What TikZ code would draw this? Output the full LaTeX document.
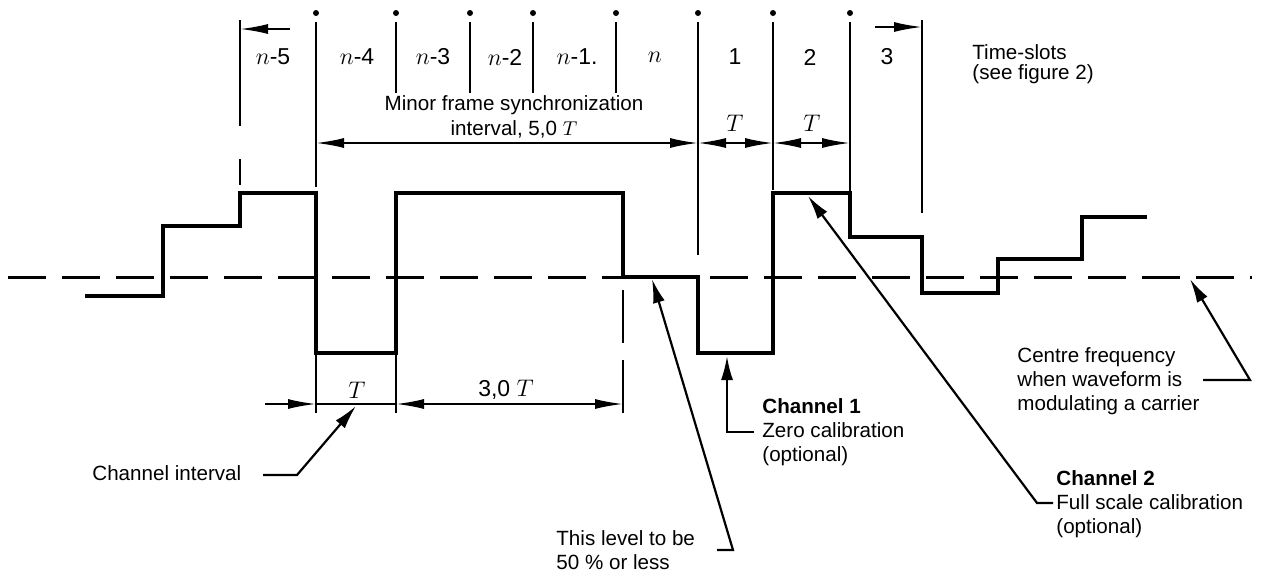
\documentclass[tikz,border=0pt]{standalone}
\usepackage{fontspec}
\setmainfont{Liberation Sans}
\usetikzlibrary{arrows.meta}
\tikzset{
  wave/.style={line width=1.6pt},
  divider/.style={line width=1.3pt},
  extline/.style={line width=1pt},
  centreline/.style={line width=1.5pt, dash pattern=on 19pt off 8pt},
  dimline/.style={line width=0.9pt},
  dimarrow/.style={line width=0.9pt, -{Latex[length=14pt,width=5pt]}},
  dimarrows/.style={line width=0.9pt, {Latex[length=14pt,width=5pt]}-{Latex[length=14pt,width=5pt]}},
  leader/.style={line width=1.1pt, -{Latex[length=12pt,width=6pt]}},
  note/.style={font=\fontsize{10.3}{12}\selectfont, inner sep=0pt, align=left, anchor=north west},
  slotname/.style={font=\fontsize{11.5}{13}\selectfont, inner sep=0pt},
}
\begin{document}
\begin{tikzpicture}[x=0.5pt, y=-0.5pt]
    \useasboundingbox (0,0) rectangle (1265,575);

    \draw[centreline] (8,277) -- (1252,277);
    \draw[wave] (85,296) -| (163,226) -| (240,193) -| (316,353) -| (396,193)
        -| (623,277) -| (698,353) -| (773,193) -| (850,237) -| (922,293)
        -| (998,259) -| (1082,217) -- (1147,217);

    \foreach \x/\y in {316/187, 396/93, 470/93, 533/93, 616/93, 698/255, 773/190, 850/193} {
        \fill (\x,13) circle (3);
        \draw[divider] (\x,22) -- (\x,\y);
    }
    \draw[divider] (922,20) -- (922,213);
    \draw[divider] (240,20) -- (240,126) (240,159) -- (240,185);
    \draw[extline] (316,353) -- (316,413);
    \draw[extline] (396,353) -- (396,413);
    \draw[extline] (623,290) -- (623,343) (623,360) -- (623,413);

    \draw (273,57) node[slotname] (n5) {$n$-5};
    \draw (357,57) node[slotname] (n4) {$n$-4};
    \draw (433,57) node[slotname] (n3) {$n$-3};
    \draw (505,57) node[slotname] (n2) {$n$-2};
    \draw (577,57) node[slotname] (n1) {$n$-1.};
    \draw (655,57) node[slotname] (n0) {$n$};
    \draw (735,57) node[slotname] (s1) {1};
    \draw (810,57) node[slotname] (s2) {2};
    \draw (887,57) node[slotname] (s3) {3};
    \draw (972,44) node[note, font=\fontsize{10.3}{10}\selectfont] (slots) {Time-slots\\(see figure 2)};

    \draw (514,95) node[note, anchor=north, align=center, font=\fontsize{10.3}{12.5}\selectfont] (sync) {Minor frame synchronization\\interval, 5,0 $T$};
    \draw (735,123) node[slotname] (tone) {$T$};
    \draw (812,123) node[slotname] (ttwo) {$T$};
    \draw (357,390) node[slotname] (tlow) {$T$};
    \draw (506,390) node[slotname] (tthree) {3,0 $T$};

    \coordinate (la) at (290,29);
    \coordinate (lb) at (240,29);
    \coordinate (ra) at (875,27);
    \coordinate (rb) at (922,27);
    \draw[dimarrow] (la) -- (lb);
    \draw[dimarrow] (ra) -- (rb);

    \coordinate (ma) at (316,143);
    \coordinate (mb) at (698,143);
    \coordinate (mc) at (773,143);
    \coordinate (md) at (850,143);
    \draw[dimarrows] (ma) -- (mb);
    \draw[dimarrows] (mb) -- (mc);
    \draw[dimarrows] (mc) -- (md);

    \coordinate (ba) at (265,404);
    \coordinate (bb) at (316,404);
    \coordinate (bc) at (396,404);
    \coordinate (bd) at (623,404);
    \draw[dimarrow] (ba) -- (bb);
    \draw[dimline] (bb) -- (bc);
    \draw[dimarrows] (bc) -- (bd);

    \draw (92,465) node[note] (chint) {Channel interval};
    \draw (556,530) node[note] (level) {This level to be\\50 \% or less};
    \draw (762,398) node[note] (chone) {\textbf{Channel 1}\\Zero calibration\\(optional)};
    \draw (1056,470) node[note] (chtwo) {\textbf{Channel 2}\\Full scale calibration\\(optional)};
    \draw (1017,347) node[note] (centre) {Centre frequency\\when waveform is\\modulating a carrier};

    \coordinate (chinta) at (263,475);
    \coordinate (chintb) at (297,475);
    \coordinate (chintc) at (356,406);
    \draw[leader] (chinta) -- (chintb) -- (chintc);

    \coordinate (levela) at (717,550);
    \coordinate (levelb) at (733,550);
    \coordinate (levelc) at (652,279);
    \draw[leader] (levela) -- (levelb) -- (levelc);

    \coordinate (chonea) at (754,432);
    \coordinate (choneb) at (727,432);
    \coordinate (chonec) at (727,356);
    \draw[leader] (chonea) -- (choneb) -- (chonec);

    \coordinate (chtwoa) at (1053,503);
    \coordinate (chtwob) at (1037,503);
    \coordinate (chtwoc) at (808,196);
    \draw[leader] (chtwoa) -- (chtwob) -- (chtwoc);

    \coordinate (centrea) at (1203,380);
    \coordinate (centreb) at (1250,380);
    \coordinate (centrec) at (1190,279);
    \draw[leader] (centrea) -- (centreb) -- (centrec);
\end{tikzpicture}
\end{document}
